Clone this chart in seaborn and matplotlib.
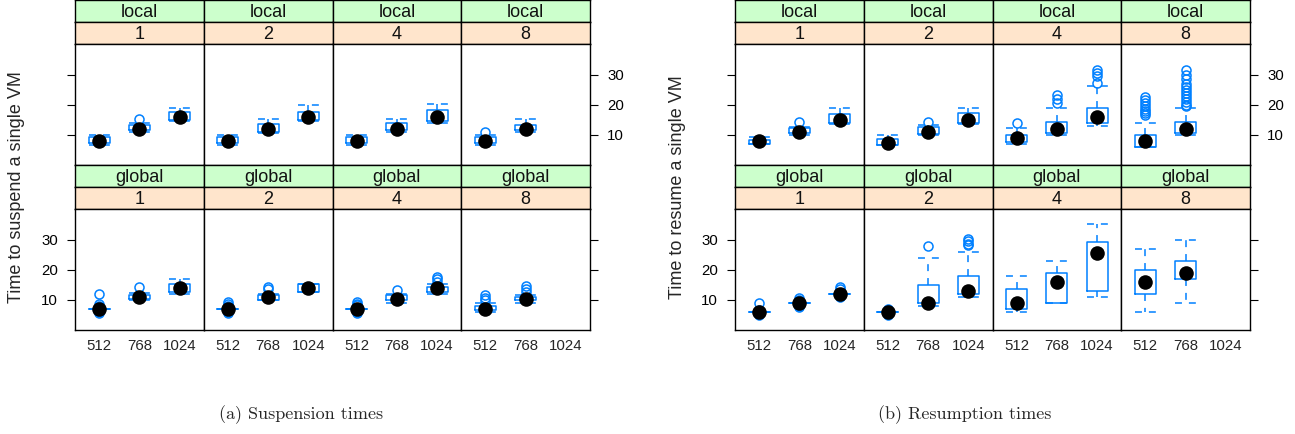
import matplotlib
matplotlib.use("Agg")
import matplotlib.pyplot as plt
import numpy as np
import pandas as pd
import seaborn as sns

# ---------------- data ----------------
SCOPES = ["local", "global"]
NODES = ["1", "2", "4", "8"]
SIZES = ["512", "768", "1024"]
YTICKS = [10, 20, 30]

# panels ordered: local-1, local-2, local-4, local-8, global-1, global-2, global-4, global-8
# each entry: values for sizes 512, 768, 1024 (None = no data)
SUSP_LO = [[6.8, 11.0, 14.5], [6.8, 10.8, 14.5], [6.8, 10.9, 13.9], [6.8, 11.0, None],
           [7.0, 10.0, 12.0], [7.0, 10.0, 12.8], [7.0, 8.9, 12.0], [5.9, 9.0, None]]
SUSP_Q1 = [[7.2, 11.7, 15.0], [7.3, 11.1, 15.0], [7.2, 11.7, 14.8], [7.2, 11.7, None],
           [7.0, 10.2, 12.8], [7.0, 10.0, 12.8], [7.0, 10.0, 12.8], [6.7, 10.0, None]]
SUSP_MED = [[8.0, 12.1, 16.1], [8.0, 12.1, 16.1], [8.0, 12.1, 16.1], [8.0, 12.1, None],
            [7.0, 10.9, 14.1], [7.0, 10.9, 14.1], [7.0, 10.2, 14.1], [7.0, 10.2, None]]
SUSP_Q3 = [[9.2, 13.3, 17.6], [9.2, 13.6, 17.6], [9.4, 14.1, 18.3], [9.2, 13.3, None],
           [7.0, 11.8, 15.2], [7.0, 11.7, 15.2], [7.0, 11.7, 14.4], [8.1, 11.1, None]]
SUSP_HI = [[10.0, 14.1, 19.1], [10.0, 15.2, 20.0], [10.0, 15.2, 20.2], [10.0, 15.2, None],
           [7.0, 12.3, 17.0], [7.0, 12.0, 15.2], [7.0, 12.0, 15.2], [8.9, 11.7, None]]
SUSP_OUT = [[[], [15.3], []], [[], [], []], [[], [], []], [[11.1], [], None],
            [[12.0, 8.5, 8.0, 6.0, 5.6], [14.2], []],
            [[9.2, 8.6, 8.0, 6.0, 5.8], [14.4, 13.6], []],
            [[9.4, 8.8, 8.2, 6.0, 5.6], [13.3], [17.8, 17.0, 16.1]],
            [[11.7, 10.8, 10.0], [14.7, 13.8, 12.8], None]]

RES_LO = [[6.9, 10.0, 13.5], [6.7, 10.0, 13.5], [7.0, 10.0, 13.1], [6.1, 10.0, None],
          [5.9, 8.9, 12.0], [5.9, 8.0, 10.9], [5.9, 8.9, 10.9], [5.9, 8.9, None]]
RES_Q1 = [[6.9, 10.6, 13.9], [6.7, 10.3, 13.9], [7.8, 10.6, 13.9], [6.1, 10.6, None],
          [5.9, 8.9, 12.0], [5.9, 8.9, 11.9], [6.9, 8.9, 13.0], [12.0, 17.0, None]]
RES_MED = [[8.0, 11.1, 15.0], [7.4, 11.1, 15.0], [9.1, 12.0, 16.1], [8.0, 12.0, None],
           [5.9, 8.9, 12.0], [5.9, 8.9, 13.0], [8.9, 15.9, 25.6], [15.9, 18.9, None]]
RES_Q3 = [[8.3, 12.2, 16.9], [8.6, 12.8, 17.2], [10.0, 14.4, 19.1], [10.0, 14.2, None],
          [5.9, 8.9, 12.0], [5.9, 15.0, 18.0], [13.6, 19.1, 29.2], [20.0, 23.1, None]]
RES_HI = [[9.2, 12.8, 19.1], [10.0, 13.3, 19.1], [12.4, 19.1, 26.3], [13.9, 18.9, None],
          [5.9, 8.9, 12.0], [5.9, 24.1, 26.1], [18.0, 23.1, 35.2], [27.1, 30.0, None]]
RES_OUT = [[[], [14.4], []], [[], [14.4], []],
           [[14.1], [23.3, 22.0, 20.6], [31.7, 30.6, 29.8, 27.2]],
           [[22.5, 21.5, 20.5, 19.5, 18.7, 18.0, 17.3, 16.7],
            [31.5, 30.0, 28.5, 27.0, 26.0, 25.0, 24.0, 23.0, 22.0, 21.0, 20.0, 19.5], None],
           [[9.0, 6.5, 5.0], [10.5, 10.0, 8.0, 7.8], [14.4, 13.5, 11.0]],
           [[7.0, 6.5, 5.3, 5.0], [28.1], [30.2, 29.5, 28.8, 28.3]],
           [[], [], []], [[], [], None]]

# ---------------- style ----------------
sns.set_style("white")
plt.rcParams["font.family"] = ["Liberation Sans", "DejaVu Sans"]
plt.rcParams["lines.scale_dashes"] = False

W, H = 1295, 434
DPI = 100
fig = plt.figure(figsize=(W / DPI, H / DPI), dpi=DPI)

BLUE = "#0080ff"
GREEN = "#ccffcc"
PEACH = "#ffe5cc"
FS_TICK = 10.8
FS_LAB = 13
PW = 128.75
STRIP = 22
PANEL_H = 121


def add_ax(x0, y0, x1, y1):
    return fig.add_axes([x0 / W, 1 - y1 / H, (x1 - x0) / W, (y1 - y0) / H])


def strip(x0, y0, x1, y1, color, text):
    a = add_ax(x0, y0, x1, y1)
    a.set_facecolor(color)
    a.set_xticks([])
    a.set_yticks([])
    for s in a.spines.values():
        s.set_color("black")
        s.set_linewidth(1.0)
    a.text(0.5, 0.45, text, ha="center", va="center", fontsize=FS_LAB,
           color="#111111", transform=a.transAxes)


def draw_block(x0, lo, q1, med, q3, hi, out, ylabel, caption, cap_x):
    for r, scope in enumerate(SCOPES):
        ytop = r * (2 * STRIP + PANEL_H)
        for c, node in enumerate(NODES):
            k = r * 4 + c
            px0 = x0 + c * PW
            px1 = px0 + PW
            strip(px0, ytop, px1, ytop + STRIP, GREEN, scope)
            strip(px0, ytop + STRIP, px1, ytop + 2 * STRIP, PEACH, node)
            ax = add_ax(px0, ytop + 2 * STRIP, px1, ytop + 2 * STRIP + PANEL_H)
            ax.set_facecolor("white")
            stats, pos, rows = [], [], []
            for i, size in enumerate(SIZES):
                if med[k][i] is None:
                    continue
                stats.append(dict(med=med[k][i], q1=q1[k][i], q3=q3[k][i],
                                  whislo=lo[k][i], whishi=hi[k][i],
                                  fliers=np.array(out[k][i], dtype=float)))
                pos.append(i + 1)
                rows.append({"pos": i + 1, "median": med[k][i]})
            ax.bxp(stats, positions=pos, widths=0.52, capwidths=0.52, showfliers=True,
                   manage_ticks=False,
                   boxprops=dict(color=BLUE, linewidth=1.1),
                   whiskerprops=dict(color=BLUE, linewidth=1.1, linestyle=(0, (5, 5))),
                   capprops=dict(color=BLUE, linewidth=1.1, linestyle=(0, (5, 5))),
                   medianprops=dict(linewidth=0),
                   flierprops=dict(marker="o", markerfacecolor="none",
                                   markeredgecolor=BLUE, markersize=6.5,
                                   markeredgewidth=1.1))
            df = pd.DataFrame(rows)
            sns.scatterplot(data=df, x="pos", y="median", color="black", s=110,
                            linewidth=0, ax=ax, legend=False, zorder=5)
            ax.set_xlim(0.4, 3.6)
            ax.set_ylim(0, 40.3)
            ax.set_xlabel("")
            ax.set_ylabel("")
            ax.set_xticks([1, 2, 3])
            ax.set_xticklabels(SIZES if r == 1 else [], fontsize=FS_TICK)
            ax.tick_params(axis="x", length=0, pad=6.5, bottom=(r == 1), labelbottom=(r == 1))
            ax.set_yticks(YTICKS)
            ax.set_yticklabels([str(t) for t in YTICKS], fontsize=FS_TICK)
            ax.tick_params(axis="y", direction="out", length=5.8, width=0.8, pad=6.5,
                           left=(c == 0), right=(c == 3),
                           labelleft=(c == 0 and r == 1),
                           labelright=(c == 3 and r == 0), colors="black")
            for s in ax.spines.values():
                s.set_color("black")
                s.set_linewidth(1.0)
    fig.text((x0 - 58) / W, 1 - 187 / H, ylabel, rotation=90, ha="center",
             va="center", fontsize=FS_LAB)
    fig.text(cap_x / W, 1 - 415 / H, caption, ha="center", va="center",
             fontsize=13, family=["cmr10", "DejaVu Serif"])


draw_block(75, SUSP_LO, SUSP_Q1, SUSP_MED, SUSP_Q3, SUSP_HI, SUSP_OUT,
           "Time to suspend a single VM", "(a) Suspension times", 301)
draw_block(735, RES_LO, RES_Q1, RES_MED, RES_Q3, RES_HI, RES_OUT,
           "Time to resume a single VM", "(b) Resumption times", 965)

fig.savefig("out.png", dpi=DPI)
